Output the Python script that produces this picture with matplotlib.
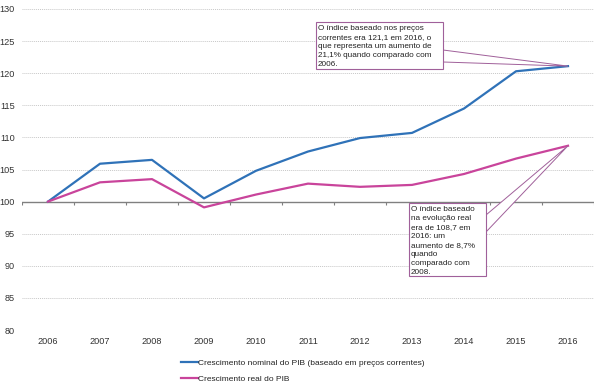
import matplotlib.pyplot as plt
from matplotlib.patches import Rectangle, Polygon

plt.rcParams['font.family'] = ['Liberation Sans', 'DejaVu Sans']

years = [2006, 2007, 2008, 2009, 2010, 2011, 2012, 2013, 2014, 2015, 2016]
nominal = [100, 105.9, 106.5, 100.5, 104.8, 107.8, 109.9, 110.7, 114.5, 120.3, 121.1]
real = [100, 103.0, 103.5, 99.1, 101.1, 102.8, 102.3, 102.6, 104.3, 106.7, 108.7]
yticks = list(range(80, 131, 5))
legend_labels = ["Crescimento nominal do PIB (baseado em preços correntes)",
                 "Crescimento real do PIB"]
note_nominal = ("O índice baseado nos preços\ncorrentes era 121,1 em 2016, o\n"
                "que representa um aumento de\n21,1% quando comparado com\n2006.")
note_real = ("O índice baseado\nna evolução real\nera de 108,7 em\n2016: um\n"
             "aumento de 8,7%\nquando\ncomparado com\n2008.")

blue = "#2f72b8"
pink = "#c9449b"
edge = "#a0609a"
W, H = 600, 386

fig = plt.figure(figsize=(6, 3.86), dpi=100)
ax = fig.add_axes([22 / W, 1 - 330 / H, (594 - 22) / W, (330 - 9) / H])

ax.set_xlim(years[0] - 0.5, years[-1] + 0.5)
ax.set_ylim(80, 130)
for s in ax.spines.values():
    s.set_visible(False)
ax.set_yticks(yticks)
ax.yaxis.grid(True, linestyle=(0, (1, 1)), color="#c8c8c8", linewidth=0.7)
ax.set_axisbelow(True)
ax.set_xticks(years)
ax.tick_params(axis="both", length=0, labelsize=6.6, colors="#333333")
ax.tick_params(axis="x", pad=5)
ax.tick_params(axis="y", pad=5)

# category axis crossing at 100
ax.axhline(100, color="#808080", linewidth=1.0, zorder=1)
bounds = [y - 0.5 for y in years] + [years[-1] + 0.5]
ax.vlines(bounds, 99.5, 100, color="#808080", linewidth=0.8, zorder=1)

l1, = ax.plot(years, nominal, color=blue, linewidth=1.6, zorder=3)
l2, = ax.plot(years, real, color=pink, linewidth=1.6, zorder=3)

leg = fig.legend([l1, l2], legend_labels, loc="upper left",
                 bbox_to_anchor=(177 / W, 1 - 355 / H), frameon=False,
                 fontsize=6.0, handlelength=2.0, handletextpad=0.05,
                 labelspacing=1.0, borderpad=0)
for t in leg.get_texts():
    t.set_color("#222222")

# callout boxes
fig.canvas.draw()
to_fig = fig.transFigure.inverted()


def callout(x0, y0, x1, y1, base, tip_year, tip_val, text):
    tip = to_fig.transform(ax.transData.transform((tip_year, tip_val)))
    b0 = (x1 / W, 1 - base[0] / H)
    b1 = (x1 / W, 1 - base[1] / H)
    fig.add_artist(Polygon([b0, tuple(tip), b1], closed=True, facecolor="white",
                           edgecolor=edge, linewidth=0.7, zorder=5,
                           transform=fig.transFigure))
    fig.add_artist(Rectangle((x0 / W, 1 - y1 / H), (x1 - x0) / W, (y1 - y0) / H,
                             facecolor="white", edgecolor=edge, linewidth=0.8,
                             zorder=6, transform=fig.transFigure))
    fig.text((x0 + 2) / W, 1 - (y0 + 3) / H, text, fontsize=5.9, va="top",
             ha="left", linespacing=1.4, color="#222222", zorder=7)


callout(316, 22, 443, 69, (50, 62), years[-1], nominal[-1], note_nominal)
callout(409, 203, 486, 276, (215, 232), years[-1], real[-1], note_real)

fig.savefig("out.png", dpi=100)
